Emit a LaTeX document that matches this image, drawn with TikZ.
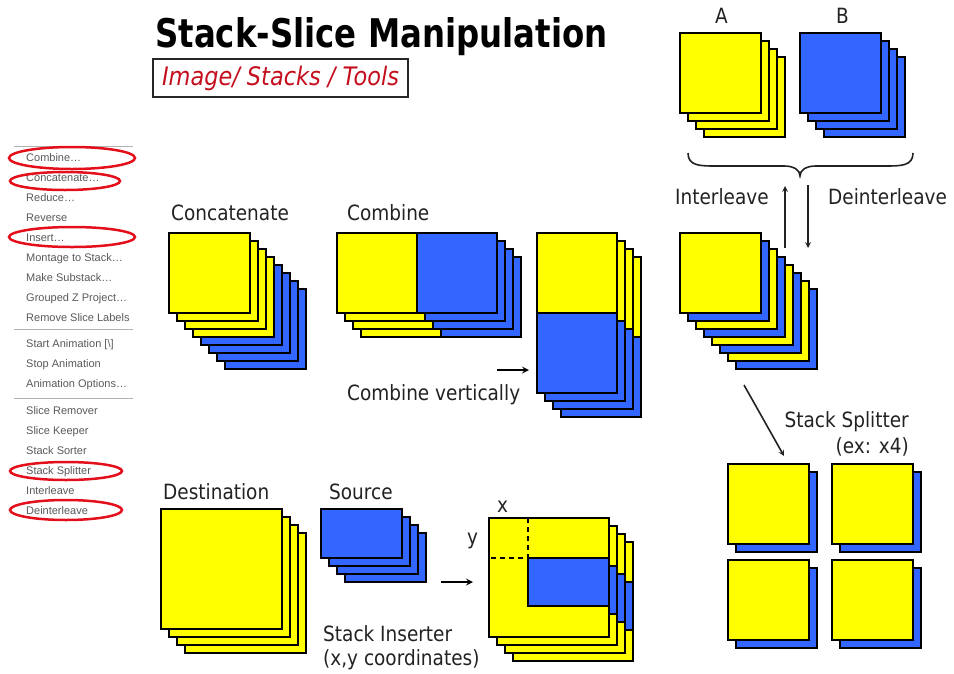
\documentclass[tikz,border=0pt]{standalone}
\usepackage{fontspec}
\newfontfamily\lblfont[FakeStretch=0.88]{DejaVu Sans}
\newfontfamily\ttlfont[FakeStretch=0.82]{DejaVu Sans}
\newfontfamily\menufont{Liberation Sans}
\definecolor{yel}{HTML}{FFFF00}
\definecolor{blu}{HTML}{3366FF}
\definecolor{redl}{HTML}{E3101C}
\definecolor{redt}{HTML}{C40E1E}
\definecolor{ink}{HTML}{222222}
\tikzset{
	sl/.style={draw=black,line width=2.4pt,line join=miter},
	lbl/.style={anchor=base west,inner sep=0pt,text=ink,font=\lblfont\fontsize{21}{25}\selectfont},
	mitem/.style={anchor=base west,inner sep=0pt,text=black!65,font=\menufont\fontsize{11}{13}\selectfont},
	msep/.style={draw=black!30,line width=1pt},
	hl/.style={draw=redl,line width=2.5pt},
	arr/.style={->,line width=1.6pt,draw=ink},
}
\begin{document}
\begin{tikzpicture}[>=stealth,x=1pt,y=-1pt]
	\useasboundingbox (0,0) rectangle (954,673);
	% menu
	\draw[msep] (14,146)--(133,146);
	\draw[msep] (14,329)--(133,329);
	\draw[msep] (14,398)--(133,398);
	\foreach \t [count=\i] in {Combine\ldots,Concatenate\ldots,Reduce\ldots,Reverse,Insert\ldots,Montage to Stack\ldots,Make Substack\ldots,Grouped Z Project\ldots,Remove Slice Labels}
		\node[mitem] (ma\i) at (26,{141+20*\i}) {\t};
	\foreach \t [count=\i] in {{Start Animation [\textbackslash]},Stop Animation,Animation Options\ldots}
		\node[mitem] (mb\i) at (26,{327+20*\i}) {\t};
	\foreach \t [count=\i] in {Slice Remover,Slice Keeper,Stack Sorter,Stack Splitter,Interleave,Deinterleave}
		\node[mitem] (mc\i) at (26,{394+20*\i}) {\t};
	\draw[hl] (72,158) ellipse [x radius=63pt,y radius=11pt];
	\draw[hl] (65,181) ellipse [x radius=55pt,y radius=9pt];
	\draw[hl] (72,237) ellipse [x radius=63pt,y radius=10pt];
	\draw[hl] (66,471) ellipse [x radius=56pt,y radius=9pt];
	\draw[hl] (66,510) ellipse [x radius=56pt,y radius=10pt];
	% title
	\node[anchor=base west,inner sep=0pt,font=\ttlfont\bfseries\fontsize{39.5}{44}\selectfont] (title) at (155,47) {Stack-Slice Manipulation};
	\node[draw=black!85,line width=1.2pt,minimum width=255pt,minimum height=38pt,inner sep=0pt,text=redt,font=\lblfont\itshape\fontsize{25.5}{30}\selectfont] (path) at (280.5,78) {Image/ Stacks / Tools};
	% concatenate
	\node[lbl] (concat) at (171,220) {Concatenate};
	\foreach \k/\c in {7/blu,6/blu,5/blu,4/blu,3/yel,2/yel,1/yel,0/yel}
		\draw[sl,fill=\c] ({169+8*\k},{233+8*\k}) rectangle +(81,80);
	% combine
	\node[lbl] (comb) at (347,220) {Combine};
	\foreach \k in {3,2,1,0}{
		\draw[sl,fill=yel] ({337+8*\k},{233+8*\k}) rectangle +(80,80);
		\draw[sl,fill=blu] ({417+8*\k},{233+8*\k}) rectangle +(80,80);
	}
	\node[lbl] (combv) at (347,400) {Combine vertically};
	\coordinate (cvS) at (497,370);
	\coordinate (cvE) at (529,370);
	\draw[->,line width=2pt] (cvS)--(cvE);
	\foreach \k in {3,2,1,0}{
		\draw[sl,fill=yel] ({537+8*\k},{233+8*\k}) rectangle +(80,80);
		\draw[sl,fill=blu] ({537+8*\k},{313+8*\k}) rectangle +(80,80);
	}
	% A and B
	\node[lbl] (A) at (715,23) {A};
	\node[lbl] (B) at (836,23) {B};
	\foreach \k in {3,2,1,0}{
		\draw[sl,fill=yel] ({680+8*\k},{33+8*\k}) rectangle +(81,80);
		\draw[sl,fill=blu] ({800+8*\k},{33+8*\k}) rectangle +(81,80);
	}
	\draw[ink,line width=1.6pt] (688,153) .. controls (688,166) and (700,166) .. (716,166) -- (784,166)
		.. controls (794,166) and (800,170) .. (800,176) .. controls (800,170) and (806,166) .. (816,166)
		-- (885,166) .. controls (901,166) and (913,166) .. (913,153);
	\node[lbl] (inter) at (675,204) {Interleave};
	\node[lbl] (deinter) at (828,204) {Deinterleave};
	\coordinate (ilS) at (785,248);
	\coordinate (ilE) at (785,186);
	\coordinate (dlS) at (808,185);
	\coordinate (dlE) at (808,248);
	\draw[arr] (ilS)--(ilE);
	\draw[arr] (dlS)--(dlE);
	\foreach \k/\c in {7/blu,6/yel,5/blu,4/yel,3/blu,2/yel,1/blu,0/yel}
		\draw[sl,fill=\c] ({680+8*\k},{233+8*\k}) rectangle +(81,80);
	% splitter
	\coordinate (spS) at (744,385);
	\coordinate (spE) at (784,456);
	\draw[arr] (spS)--(spE);
	\node[lbl,anchor=base east] (split) at (909,427) {Stack Splitter};
	\node[lbl,anchor=base east] (splitex) at (909,453) {(ex: x4)};
	\foreach \x/\y in {728/464,832/464,728/560,832/560}{
		\draw[sl,fill=blu] ({\x+8},{\y+8}) rectangle +(81,80);
		\draw[sl,fill=yel] (\x,\y) rectangle +(81,80);
	}
	% inserter
	\node[lbl] (dest) at (163,499) {Destination};
	\foreach \k in {3,2,1,0}
		\draw[sl,fill=yel] ({161+8*\k},{509+8*\k}) rectangle +(121,120);
	\node[lbl] (src) at (329,499) {Source};
	\foreach \k in {3,2,1,0}
		\draw[sl,fill=blu] ({321+8*\k},{509+8*\k}) rectangle +(81,49);
	\coordinate (inS) at (441,582);
	\coordinate (inE) at (473,582);
	\draw[->,line width=2pt] (inS)--(inE);
	\node[lbl] (ins) at (323,641) {Stack Inserter};
	\node[lbl] (insxy) at (323,665) {(x,y coordinates)};
	\foreach \k in {3,2,1,0}{
		\draw[sl,fill=yel] ({489+8*\k},{518+8*\k}) rectangle +(120,119);
		\draw[sl,fill=blu] ({528+8*\k},{558+8*\k}) rectangle +(81,48);
	}
	\draw[line width=1.6pt,dash pattern=on 5pt off 4pt] (528,518)--(528,558)--(489,558);
	\node[lbl] (xl) at (497,512) {x};
	\node[lbl] (yl) at (467,544) {y};
\end{tikzpicture}
\end{document}
